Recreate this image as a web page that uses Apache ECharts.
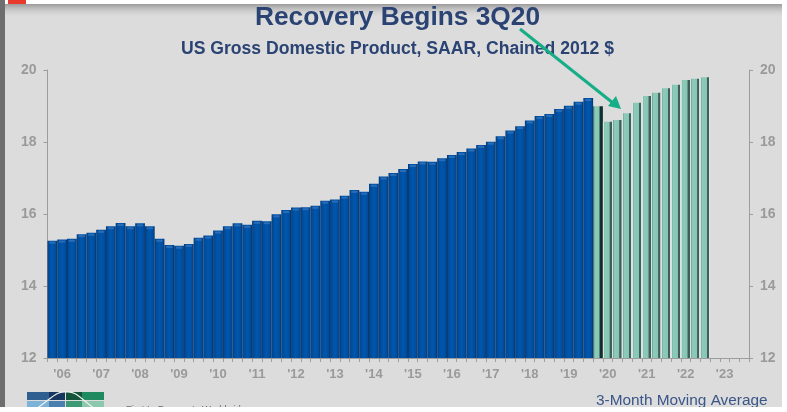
<!DOCTYPE html>
<html>
<head>
<meta charset="utf-8">
<title>Recovery Begins 3Q20</title>
<script src="https://cdn.jsdelivr.net/npm/echarts@6/dist/echarts.min.js"></script>
<style>
    html, body { margin: 0; padding: 0; background: #fff; }
    #main { width: 787px; height: 412px; }
</style>
</head>
<body>
<div id="main"></div>
<script>
    // quarters from 2006Q1 to 2023Q4, one label per year
    var years = ["'06", "'07", "'08", "'09", "'10", "'11", "'12", "'13", "'14",
        "'15", "'16", "'17", "'18", "'19", "'20", "'21", "'22", "'23"];
    var quarterLabels = ['Q1', 'Q2', 'Q3', 'Q4'];

    // trillions of chained 2012 $
    var actualValues = [
        15.26, 15.29, 15.31, 15.44, 15.48, 15.56, 15.66, 15.75,
        15.66, 15.74, 15.66, 15.31, 15.14, 15.12, 15.17, 15.34,
        15.40, 15.54, 15.66, 15.74, 15.70, 15.81, 15.80, 15.99,
        16.11, 16.18, 16.19, 16.23, 16.37, 16.40, 16.51, 16.67,
        16.62, 16.84, 17.04, 17.14, 17.25, 17.39, 17.46, 17.45,
        17.55, 17.64, 17.72, 17.82, 17.92, 18.01, 18.16, 18.32,
        18.44, 18.60, 18.72, 18.78, 18.92, 19.01, 19.12, 19.22
    ];
    var forecastValues = [18.99, 18.56, 18.61, 18.80, 19.09, 19.28, 19.37, 19.49, 19.59, 19.72, 19.76, 19.80];

    var yTicks = { min: 12, max: 20, interval: 2 };

    var categories = [];
    years.forEach(function (y) {
        quarterLabels.forEach(function (q) {
            categories.push(y + ' ' + q);
        });
    });

    function hGradient(stops) {
        return new echarts.graphic.LinearGradient(0, 0, 1, 0, stops);
    }

    var blueFill = hGradient([
        { offset: 0, color: '#08346e' },
        { offset: 0.12, color: '#004b98' },
        { offset: 0.5, color: '#0057ad' },
        { offset: 0.85, color: '#004c9c' },
        { offset: 1, color: '#07305f' }
    ]);
    // forecast bars are narrower: both ends of the gradient stay see-through
    var clear = 'rgba(226,230,230,0.6)';
    var tealFill = hGradient([
        { offset: 0, color: clear },
        { offset: 0.07, color: clear },
        { offset: 0.08, color: '#6fa99b' },
        { offset: 0.2, color: '#8ccbb9' },
        { offset: 0.66, color: '#86c6b3' },
        { offset: 0.72, color: '#3f5f5a' },
        { offset: 0.91, color: '#3f5f5a' },
        { offset: 0.92, color: clear },
        { offset: 1, color: clear }
    ]);
    // first forecast quarter sits on a dark bar
    var tealFirstFill = hGradient([
        { offset: 0, color: '#1c4a50' },
        { offset: 0.1, color: '#6fa99b' },
        { offset: 0.24, color: '#8ccbb9' },
        { offset: 0.62, color: '#86c6b3' },
        { offset: 0.7, color: '#12332f' },
        { offset: 1, color: '#0c2a2a' }
    ]);

    var actualData = actualValues.slice();
    while (actualData.length < categories.length) {
        actualData.push(null);
    }
    var forecastData = [];
    categories.forEach(function (c, i) {
        var v = forecastValues[i - actualValues.length];
        forecastData.push(v === undefined ? null : v);
    });
    forecastData[actualValues.length] = {
        value: forecastValues[0],
        itemStyle: { color: tealFirstFill }
    };

    var axisGrey = '#9d9d9d';
    var labelGrey = '#9a9a9a';
    var titleBlue = '#2a4373';
    var arrowGreen = '#16ae86';

    var chart = echarts.init(document.getElementById('main'), null, { renderer: 'canvas' });

    chart.setOption({
        animation: false,
        backgroundColor: '#dcdcdc',
        title: [{
            text: 'Recovery Begins 3Q20',
            left: 392.5,
            top: 0,
            textAlign: 'center',
            textStyle: { color: titleBlue, fontFamily: 'Liberation Sans', fontWeight: 'bold', fontSize: 26.3 }
        }, {
            text: 'US Gross Domestic Product, SAAR, Chained 2012 $',
            left: 392.5,
            top: 35,
            textAlign: 'center',
            textStyle: { color: titleBlue, fontFamily: 'Liberation Sans', fontWeight: 'bold', fontSize: 17.6 }
        }],
        grid: { left: 47.5, right: 38, top: 70, bottom: 54 },
        xAxis: {
            type: 'category',
            data: categories,
            boundaryGap: true,
            axisLine: { lineStyle: { color: axisGrey, width: 1 } },
            axisTick: { show: true, interval: 0, length: 4, lineStyle: { color: axisGrey } },
            axisLabel: {
                // year label under the second quarter
                interval: function (i) { return i % 4 === 1; },
                formatter: function (v) { return v.split(' ')[0]; },
                color: labelGrey,
                fontFamily: 'Liberation Sans',
                fontWeight: 'bold',
                fontSize: 13,
                margin: 10
            }
        },
        yAxis: [{
            type: 'value',
            position: 'left',
            min: yTicks.min,
            max: yTicks.max,
            interval: yTicks.interval,
            splitLine: { show: false },
            axisLine: { show: true, lineStyle: { color: axisGrey } },
            axisTick: { show: true, length: 4, lineStyle: { color: axisGrey } },
            axisLabel: { color: labelGrey, fontFamily: 'Liberation Sans', fontWeight: 'bold', fontSize: 14, margin: 11 }
        }, {
            type: 'value',
            position: 'right',
            min: yTicks.min,
            max: yTicks.max,
            interval: yTicks.interval,
            splitLine: { show: false },
            axisLine: { show: true, lineStyle: { color: axisGrey } },
            axisTick: { show: true, length: 4, lineStyle: { color: axisGrey } },
            axisLabel: { color: labelGrey, fontFamily: 'Liberation Sans', fontWeight: 'bold', fontSize: 14, margin: 11 }
        }],
        series: [{
            name: 'Actual',
            type: 'bar',
            stack: 'gdp',
            barWidth: '100%',
            data: actualData,
            itemStyle: { color: blueFill }
        }, {
            name: 'Forecast',
            type: 'bar',
            stack: 'gdp',
            barWidth: '100%',
            data: forecastData,
            itemStyle: { color: tealFill }
        }, {
            // lighter rim on top of the blue bars
            name: 'Actual cap',
            type: 'pictorialBar',
            symbol: 'rect',
            symbolSize: ['92%', 2],
            symbolPosition: 'end',
            symbolOffset: [0, 1],
            data: actualData,
            itemStyle: { color: '#2a6cb6' },
            z: 3
        }],
        graphic: [
            // window edges of the screen capture
            {
                type: 'rect', z: 1,
                shape: { x: 0, y: 4, width: 787, height: 14 },
                style: {
                    fill: new echarts.graphic.LinearGradient(0, 0, 0, 1, [
                        { offset: 0, color: '#9a9a9a' },
                        { offset: 1, color: 'rgba(220,220,220,0)' }
                    ])
                }
            },
            { type: 'rect', z: 50, shape: { x: 0, y: 0, width: 787, height: 4 }, style: { fill: '#ffffff' } },
            { type: 'rect', z: 51, shape: { x: 8, y: 0, width: 18, height: 4 }, style: { fill: '#e8392c' } },
            { type: 'rect', z: 50, shape: { x: 0, y: 0, width: 5, height: 412 }, style: { fill: '#6e6e6e' } },
            { type: 'rect', z: 50, shape: { x: 782, y: 0, width: 5, height: 412 }, style: { fill: '#ffffff' } },

            // green arrow
            {
                type: 'line', z: 20,
                shape: { x1: 520, y1: 29, x2: 613, y2: 103 },
                style: { stroke: arrowGreen, lineWidth: 3 }
            },
            {
                type: 'polygon', z: 20,
                shape: { points: [[621, 109], [608, 106], [616, 96]] },
                style: { fill: arrowGreen }
            },

            // logo, cut off by the bottom of the capture
            { type: 'rect', z: 10, shape: { x: 27, y: 392, width: 22, height: 8 }, style: { fill: '#2f5f90' } },
            { type: 'rect', z: 10, shape: { x: 49, y: 392, width: 16, height: 8 }, style: { fill: '#17365f' } },
            { type: 'rect', z: 10, shape: { x: 27, y: 401, width: 22, height: 8 }, style: { fill: '#7db3d8' } },
            { type: 'rect', z: 10, shape: { x: 49, y: 401, width: 16, height: 8 }, style: { fill: '#4a7fb0' } },
            { type: 'rect', z: 10, shape: { x: 66, y: 392, width: 16, height: 8 }, style: { fill: '#14553a' } },
            { type: 'rect', z: 10, shape: { x: 82, y: 392, width: 22, height: 8 }, style: { fill: '#1f8a60' } },
            { type: 'rect', z: 10, shape: { x: 66, y: 401, width: 16, height: 8 }, style: { fill: '#3d9a75' } },
            { type: 'rect', z: 10, shape: { x: 82, y: 401, width: 22, height: 8 }, style: { fill: '#8cc8ae' } },
            {
                type: 'bezierCurve', z: 11,
                shape: { x1: 36, y1: 409, cpx1: 52, cpy1: 398, cpx2: 56, cpy2: 391, x2: 66, y2: 392 },
                style: { stroke: '#f0f0f0', fill: 'none', lineWidth: 1.2 }
            },
            {
                type: 'bezierCurve', z: 11,
                shape: { x1: 66, y1: 392, cpx1: 76, cpy1: 391, cpx2: 80, cpy2: 398, x2: 95, y2: 409 },
                style: { stroke: '#f0f0f0', fill: 'none', lineWidth: 1.2 }
            },
            {
                type: 'text', z: 10,
                style: {
                    x: 126, y: 404,
                    text: 'First In Forecasts Worldwide',
                    fill: '#6a6a6a',
                    fontFamily: 'Liberation Sans',
                    fontSize: 9.5
                }
            },
            {
                type: 'text', z: 10,
                style: {
                    x: 596, y: 393.5,
                    text: '3-Month Moving Average',
                    fill: '#3a5587',
                    fontFamily: 'Liberation Sans',
                    fontSize: 15.4
                }
            },
            // white band below the capture
            { type: 'rect', z: 50, shape: { x: 0, y: 407, width: 787, height: 5 }, style: { fill: '#ffffff' } }
        ]
    });
</script>
</body>
</html>
